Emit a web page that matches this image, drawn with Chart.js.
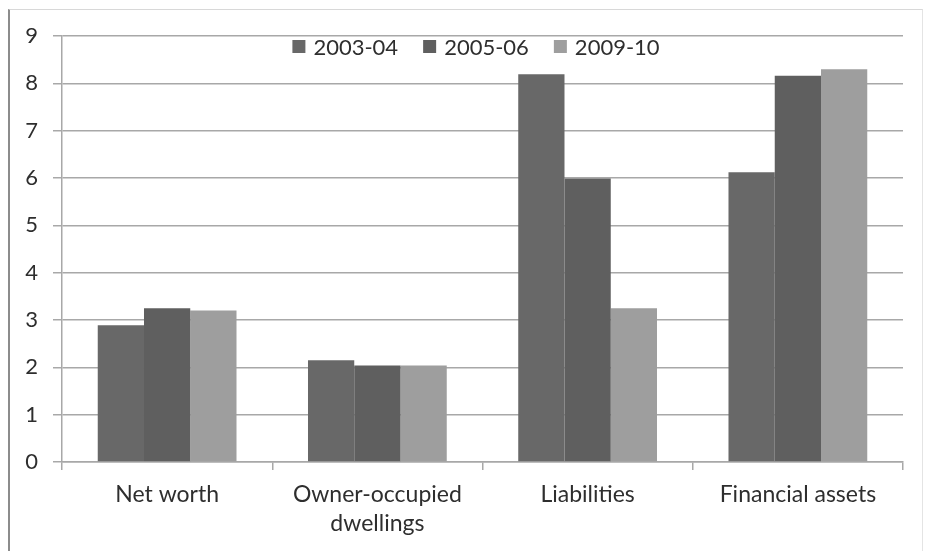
<!DOCTYPE html>
<html>
<head>
<meta charset="utf-8">
<script src="https://cdn.jsdelivr.net/npm/chart.js@4/dist/chart.umd.min.js"></script>
<style>
  html, body { margin: 0; padding: 0; background: #fff; overflow: hidden; }
  #wrap { position: relative; width: 926px; height: 551px; }
  #frame {
    position: absolute; left: 8px; top: 9px; width: 912px; height: 600px;
    border-left: 2px solid #8c8c8c; border-top: 1px solid #d8d8d8; border-right: 1px solid #e4e4e4;
  }
  canvas { position: absolute; left: 0; top: 0; }
</style>
</head>
<body>
<div id="wrap">
  <div id="frame"></div>
  <canvas id="chart" width="926" height="551"></canvas>
</div>
<script>
var categories = ['Net worth', ['Owner-occupied', 'dwellings'], 'Liabilities', 'Financial assets'];
var seriesNames = ['2003-04', '2005-06', '2009-10'];
var values0304 = [2.89, 2.15, 8.19, 6.12];
var values0506 = [3.25, 2.04, 5.99, 8.16];
var values0910 = [3.20, 2.04, 3.25, 8.30];
var yTicks = [0, 1, 2, 3, 4, 5, 6, 7, 8, 9];

var colors = ['#686868', '#5f5f5f', '#9e9e9e'];
var gridColor = '#a8a8a8';
var textColor = '#2e2e2e';
var fontFamily = 'Lato, "Open Sans", sans-serif';

// legend drawn inside the plot, just under the top gridline
var plotLegend = {
    id: 'plotLegend',
    afterDatasetsDraw: function(chart) {
        var ctx = chart.ctx;
        var sets = chart.data.datasets;
        var box = 13, gap = 8, between = 25;
        ctx.save();
        ctx.font = '22px ' + fontFamily;
        var total = 0;
        sets.forEach(function(ds, i) {
            total += box + gap + ctx.measureText(ds.label).width;
            if (i < sets.length - 1) total += between;
        });
        var x = 476 - total / 2;
        var cy = chart.chartArea.top + 10.5;
        ctx.textBaseline = 'middle';
        ctx.textAlign = 'left';
        sets.forEach(function(ds) {
            ctx.fillStyle = ds.backgroundColor;
            ctx.fillRect(x, cy - box / 2, box, box);
            x += box + gap;
            ctx.fillStyle = textColor;
            ctx.fillText(ds.label, x, cy + 1);
            x += ctx.measureText(ds.label).width + between;
        });
        ctx.restore();
    }
};

new Chart(document.getElementById('chart'), {
    type: 'bar',
    data: {
        labels: categories,
        datasets: [
            { label: seriesNames[0], data: values0304, backgroundColor: colors[0] },
            { label: seriesNames[1], data: values0506, backgroundColor: colors[1] },
            { label: seriesNames[2], data: values0910, backgroundColor: colors[2] }
        ]
    },
    options: {
        responsive: false,
        animation: false,
        devicePixelRatio: 1,
        layout: { padding: { left: 0, top: 36, right: 23, bottom: 0 } },
        datasets: { bar: { categoryPercentage: 0.66, barPercentage: 1.0, borderWidth: 0 } },
        plugins: {
            legend: { display: false },
            tooltip: { enabled: false }
        },
        scales: {
            x: {
                afterFit: function(scale) { scale.height = 89; },
                grid: {
                    offset: true,
                    drawOnChartArea: false,
                    drawTicks: true,
                    tickLength: 8,
                    color: gridColor,
                    lineWidth: 1.5
                },
                border: { display: true, color: gridColor, width: 1.5 },
                ticks: {
                    color: textColor,
                    padding: 11,
                    maxRotation: 0,
                    autoSkip: false,
                    font: { family: fontFamily, size: 23, lineHeight: 1.22 }
                }
            },
            y: {
                min: yTicks[0],
                max: yTicks[yTicks.length - 1],
                afterFit: function(scale) { scale.width = 62; },
                afterBuildTicks: function(scale) {
                    scale.ticks = yTicks.map(function(v) { return { value: v }; });
                },
                grid: {
                    color: gridColor,
                    lineWidth: 1.5,
                    drawTicks: true,
                    tickLength: 9
                },
                border: { display: true, color: gridColor, width: 1.5 },
                ticks: {
                    color: textColor,
                    padding: 15,
                    font: { family: fontFamily, size: 22 }
                }
            }
        }
    },
    plugins: [plotLegend]
});
</script>
</body>
</html>
